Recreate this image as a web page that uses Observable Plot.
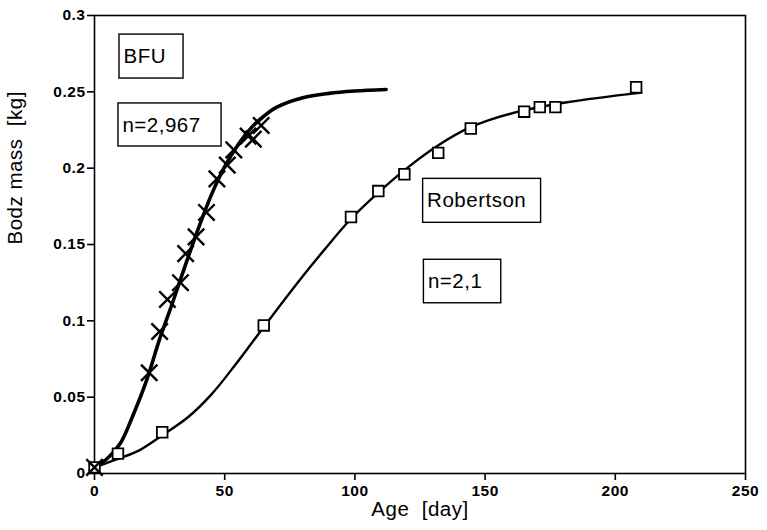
<!DOCTYPE html>
<html>
<head>
<meta charset="utf-8">
<script src="https://cdn.jsdelivr.net/npm/d3@7"></script>
<script src="https://cdn.jsdelivr.net/npm/@observablehq/plot@0.6"></script>
<style>
  html, body { margin: 0; padding: 0; background: #fff; }
  #chart svg { display: block; }
  #chart svg text { letter-spacing: 0.5px; }
</style>
</head>
<body>
<div id="chart"></div>
<script>
// ---- data ----
const bfuDay  = [0, 21, 25, 28, 33, 35, 39, 43, 47, 51, 53.5, 59, 61, 64];
const bfuMass = [0.004, 0.066, 0.093, 0.114, 0.125, 0.144, 0.155, 0.171, 0.193, 0.202, 0.212, 0.221, 0.219, 0.228];

const robDay  = [0, 9, 26, 65, 98.5, 109, 119, 132, 144.5, 165, 171, 177, 208];
const robMass = [0.004, 0.013, 0.027, 0.097, 0.168, 0.185, 0.196, 0.210, 0.226, 0.237, 0.240, 0.240, 0.253];

// fitted curves (traced)
const bfuFitDay  = [0, 5, 10, 15, 20, 25, 30, 35, 40, 45, 50, 55, 60, 65, 70, 80, 90, 100, 112];
const bfuFitMass = [0.004, 0.010, 0.020, 0.039, 0.061, 0.088, 0.112, 0.137, 0.161, 0.183, 0.201, 0.215, 0.226, 0.234, 0.240, 0.2462, 0.249, 0.2505, 0.2515];

const robFitDay  = [0, 9, 17, 26, 36, 45, 54, 65, 78, 88, 98.6, 109, 120, 131.6, 144, 162, 181.5, 210];
const robFitMass = [0.004, 0.0096, 0.015, 0.025, 0.037, 0.052, 0.071, 0.096, 0.125, 0.146, 0.167, 0.184, 0.2, 0.2145, 0.2265, 0.2367, 0.2432, 0.2495];

// ticks
const xTicks = [0, 50, 100, 150, 200, 250];
const yTicks = [0, 0.05, 0.1, 0.15, 0.2, 0.25, 0.3];
const yTickLabels = ["0", "0.05", "0.1", "0.15", "0.2", "0.25", "0.3"];

// annotation boxes
const boxLabels = ["BFU", "n=2,967", "Robertson", "n=2,1"];

// ---- layout of annotation boxes (data coordinates) ----
const boxLayout = {
  x1: [9.6, 9.2, 126.2, 126.5],
  x2: [34.2, 48.8, 171.5, 156.2],
  yTop: [0.2875, 0.2424, 0.193, 0.140],
  yBot: [0.2587, 0.2142, 0.1642, 0.1115]
};

const zip = (xs, ys) => xs.map((x, i) => ({x, y: ys[i]}));
const bfuPts = zip(bfuDay, bfuMass);
const robPts = zip(robDay, robMass);
const bfuFit = zip(bfuFitDay, bfuFitMass);
const robFit = zip(robFitDay, robFitMass);
const boxes = boxLabels.map((t, i) => ({
  text: t,
  x1: boxLayout.x1[i], x2: boxLayout.x2[i],
  y1: boxLayout.yBot[i], y2: boxLayout.yTop[i],
  ym: (boxLayout.yBot[i] + boxLayout.yTop[i]) / 2
}));

const font = "'Liberation Sans', Arial, Helvetica, sans-serif";

const chart = Plot.plot({
  width: 767,
  height: 530,
  marginLeft: 94,
  marginRight: 22,
  marginTop: 15,
  marginBottom: 57,
  style: {fontFamily: font, fontSize: "16px", color: "#000", background: "#fff"},
  x: {domain: [0, 250]},
  y: {domain: [0, 0.3]},
  marks: [
    Plot.frame({stroke: "#000", strokeWidth: 1.6}),
    Plot.axisX({ticks: xTicks, tickSize: 7, tickPadding: 4, strokeWidth: 1.6, fontWeight: "bold", fontSize: 15.5, label: null, tickFormat: d => String(d)}),
    Plot.axisY({ticks: yTicks, tickSize: 7, tickPadding: 2, strokeWidth: 1.6, fontWeight: "bold", fontSize: 15.5, label: null,
      tickFormat: d => yTickLabels[yTicks.indexOf(d)]}),
    Plot.text(["Age\u00a0 [day]"], {frameAnchor: "bottom", dy: 42, fontSize: 20.5, fill: "#000"}),
    Plot.text(["Bodz mass\u00a0 [kg]"], {frameAnchor: "left", dx: -79, rotate: -90, fontSize: 20.5, fill: "#000"}),
    Plot.line(robFit, {x: "x", y: "y", curve: "catmull-rom", stroke: "#000", strokeWidth: 2.4}),
    Plot.line(bfuFit, {x: "x", y: "y", curve: "catmull-rom", stroke: "#000", strokeWidth: 3.6}),
    Plot.dot(robPts, {x: "x", y: "y", symbol: "square", r: 6, fill: "#fff", stroke: "#000", strokeWidth: 1.8}),
    Plot.dot(bfuPts, {x: "x", y: "y", symbol: "times", r: 7.5, stroke: "#000", strokeWidth: 2.4}),
    Plot.rect(boxes, {x1: "x1", x2: "x2", y1: "y1", y2: "y2", fill: "#fff", stroke: "#000", strokeWidth: 1.4}),
    Plot.text(boxes, {x: "x1", y: "ym", text: "text", textAnchor: "start", dx: 4, fontSize: 20.5, fill: "#000"})
  ]
});
document.getElementById("chart").appendChild(chart);
</script>
</body>
</html>
